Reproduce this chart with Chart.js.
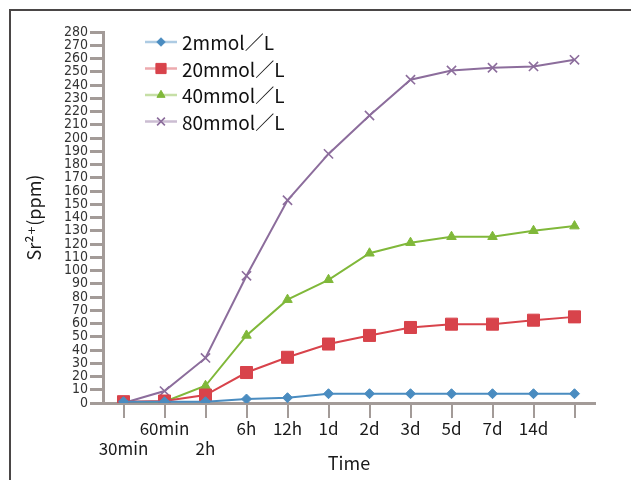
<!DOCTYPE html>
<html>
<head>
<meta charset="utf-8">
<script src="https://cdn.jsdelivr.net/npm/chart.js@4"></script>
<style>
  body { margin: 0; background: #fff; }
  #wrap { position: relative; width: 631px; height: 480px; overflow: hidden; }
  #frame { position: absolute; left: 9px; top: 9px; width: 700px; height: 600px;
           border-top: 2px solid #4a4646; border-left: 2px solid #4a4646; }
  canvas { position: absolute; left: 0; top: 0; }
</style>
</head>
<body>
<div id="wrap"><div id="frame"></div><canvas id="chart" width="631" height="480"></canvas></div>
<script>
// categories (30min and 2h sit on a lower row in the original)
const timeLabels = [['', '30min'], '60min', ['', '2h'], '6h', '12h', '1d', '2d', '3d', '5d', '7d', '14d', ''];
const yMin = 0, yMax = 280, yStep = 10;

const seriesNames = ['2mmol／L', '20mmol／L', '40mmol／L', '80mmol／L'];
const sr2mmol  = [1, 1, 1, 3, 4, 7, 7, 7, 7, 7, 7, 7];
const sr20mmol = [1, 1.5, 6, 23, 34.5, 44.5, 51, 57, 59.5, 59.5, 62.5, 65];
const sr40mmol = [0, 1, 13, 51, 78, 93, 113, 121, 125.5, 125.5, 130, 133.5];
const sr80mmol = [0, 9, 34, 96, 153, 188, 217, 244, 251, 253, 254, 259];

const textFont = "'Noto Sans CJK KR', 'DejaVu Sans', sans-serif";
const narrowFont = "'DejaVu Sans Condensed', 'Liberation Sans Narrow', sans-serif";
const axisGray = '#a39b98';

const mkSet = (label, data, color, style, radius) => ({
  label, data,
  borderColor: color,
  backgroundColor: color,
  pointBackgroundColor: color,
  pointBorderColor: color,
  pointStyle: style,
  pointRadius: radius,
  pointBorderWidth: style === 'crossRot' ? 1.6 : 1,
  borderWidth: 2,
  tension: 0,
});

// legend drawn inside the plot, line + marker like the original
const insideLegend = {
  id: 'insideLegend',
  afterDatasetsDraw(chart) {
    const {ctx, chartArea} = chart;
    const x0 = chartArea.left + 42, y0 = chartArea.top + 10, row = 26.5;
    ctx.save();
    chart.data.datasets.forEach((ds, i) => {
      const y = y0 + i * row;
      ctx.globalAlpha = 0.45;
      ctx.strokeStyle = ds.borderColor;
      ctx.lineWidth = 2.5;
      ctx.beginPath();
      ctx.moveTo(x0, y);
      ctx.lineTo(x0 + 32, y);
      ctx.stroke();
      ctx.globalAlpha = 1;
      ctx.fillStyle = ds.borderColor;
      ctx.lineWidth = ds.pointBorderWidth;
      Chart.helpers.drawPoint(ctx, {pointStyle: ds.pointStyle, radius: ds.pointRadius * 0.85, rotation: 0, borderWidth: ds.pointBorderWidth}, x0 + 16, y);
      ctx.fillStyle = '#111';
      ctx.font = "19px " + textFont;
      ctx.textBaseline = 'middle';
      ctx.textAlign = 'left';
      ctx.fillText(ds.label, x0 + 37, y + 1);
    });
    ctx.restore();
  }
};

new Chart(document.getElementById('chart'), {
  type: 'line',
  data: {
    labels: timeLabels,
    datasets: [
      mkSet(seriesNames[0], sr2mmol, '#4a8cc0', 'rectRot', 5),
      mkSet(seriesNames[1], sr20mmol, '#d8434b', 'rect', 8.5),
      mkSet(seriesNames[2], sr40mmol, '#80b83a', 'triangle', 5.5),
      mkSet(seriesNames[3], sr80mmol, '#8c6d9c', 'crossRot', 6.5),
    ],
  },
  options: {
    responsive: false,
    animation: false,
    layout: { padding: { left: 23, top: 32, right: 36, bottom: 0 } },
    plugins: { legend: { display: false }, tooltip: { enabled: false } },
    scales: {
      x: {
        type: 'category',
        offset: true,
        grid: { drawOnChartArea: false, drawTicks: true, tickLength: 15, lineWidth: 2, color: axisGray },
        border: { color: axisGray, width: 3 },
        ticks: { autoSkip: false, maxRotation: 0, padding: 1, color: '#1a1a1a',
                 font: { family: textFont, size: 17, lineHeight: 1.15 } },
        title: { display: true, text: 'Time', color: '#1a1a1a', padding: { top: 0, bottom: 6 },
                 font: { family: textFont, size: 18 } },
        afterFit: (s) => { s.height = 77; },
      },
      y: {
        min: yMin, max: yMax,
        grid: { drawOnChartArea: false, drawTicks: true, tickLength: 13, lineWidth: 3, color: axisGray },
        border: { color: axisGray, width: 3 },
        ticks: { stepSize: yStep, autoSkip: false, padding: 2, color: '#333',
                 font: { family: narrowFont, size: 14, lineHeight: 1 } },
        title: { display: true, text: 'Sr²⁺(ppm)', color: '#1a1a1a', padding: { top: 0, bottom: 0 },
                 font: { family: textFont, size: 18 } },
        afterFit: (s) => { s.width = 80; },
      },
    },
  },
  plugins: [insideLegend],
});
</script>
</body>
</html>
